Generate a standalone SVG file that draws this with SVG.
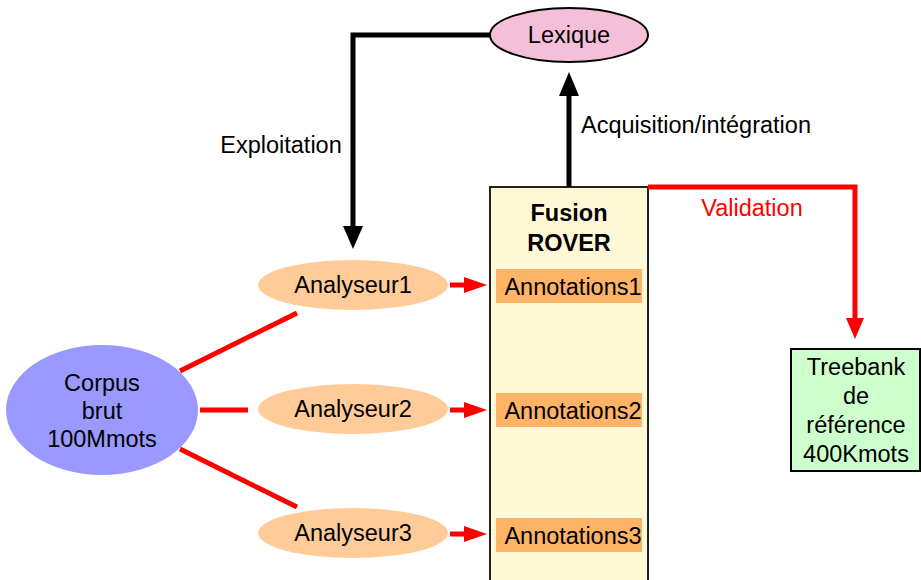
<svg xmlns="http://www.w3.org/2000/svg" width="921" height="580" viewBox="0 0 921 580">
<style>
text{font-family:"Liberation Sans",Arial,sans-serif;font-size:23.5px;fill:#000;text-anchor:middle}
.ana{fill:#FFCC99}
.ann{fill:#FFB366}
.red{stroke:#FF0000;stroke-width:5;fill:none}
.blk{stroke:#000;stroke-width:5;fill:none}
</style>
<g id="fusion">
<rect x="490" y="187" width="158" height="400" fill="#FFF8D6" stroke="#222" stroke-width="2"/>
<text x="569" y="221" font-weight="bold">Fusion</text>
<text x="569" y="251" font-weight="bold">ROVER</text>
</g>
<g id="ann1"><rect class="ann" x="496" y="269" width="146" height="34"/><text x="573" y="295">Annotations1</text></g>
<g id="ann2"><rect class="ann" x="496" y="393" width="146" height="34"/><text x="573" y="419">Annotations2</text></g>
<g id="ann3"><rect class="ann" x="496" y="518" width="146" height="34"/><text x="573" y="544">Annotations3</text></g>
<g id="lexique">
<ellipse cx="569" cy="35" rx="79" ry="27" fill="#F5BFD9" stroke="#000" stroke-width="2"/>
<text x="569" y="43">Lexique</text>
</g>
<g id="corpus">
<ellipse cx="102" cy="410" rx="96" ry="65" fill="#9999FF"/>
<text x="102" y="391">Corpus</text>
<text x="102" y="419">brut</text>
<text x="102" y="447">100Mmots</text>
</g>
<g id="analyseur1"><ellipse class="ana" cx="353" cy="285" rx="95" ry="25"/><text x="353" y="293">Analyseur1</text></g>
<g id="analyseur2"><ellipse class="ana" cx="353" cy="409" rx="95" ry="25"/><text x="353" y="417">Analyseur2</text></g>
<g id="analyseur3"><ellipse class="ana" cx="353" cy="533" rx="95" ry="25"/><text x="353" y="541">Analyseur3</text></g>
<g id="treebank">
<rect x="791" y="349" width="129" height="122" fill="#CCFFCC" stroke="#000" stroke-width="2"/>
<text x="856" y="375">Treebank</text>
<text x="856" y="404">de</text>
<text x="856" y="433">référence</text>
<text x="856" y="462">400Kmots</text>
</g>
<g id="connectors">
<path class="blk" d="M490,35H353V228"/>
<path d="M343,226L353,249L363,226z" fill="#000"/>
<path class="blk" d="M569,187V95"/>
<path d="M559,96L569,72L579,96z" fill="#000"/>
<path class="red" d="M648,187H855V320"/>
<path d="M846,318L855,339L864,318z" fill="#FF0000"/>
<path class="red" d="M180,371L297,313"/>
<path class="red" d="M200,410H248"/>
<path class="red" d="M180,449L297,507"/>
<path class="red" d="M450,285H466"/>
<path d="M464,277L487,285L464,293z" fill="#FF0000"/>
<path class="red" d="M450,410H466"/>
<path d="M464,402L487,410L464,418z" fill="#FF0000"/>
<path class="red" d="M450,534H466"/>
<path d="M464,526L487,534L464,542z" fill="#FF0000"/>
<text x="281" y="153">Exploitation</text>
<text x="696" y="133">Acquisition/intégration</text>
<text x="752" y="216" style="fill:#FF0000">Validation</text>
</g>
</svg>
